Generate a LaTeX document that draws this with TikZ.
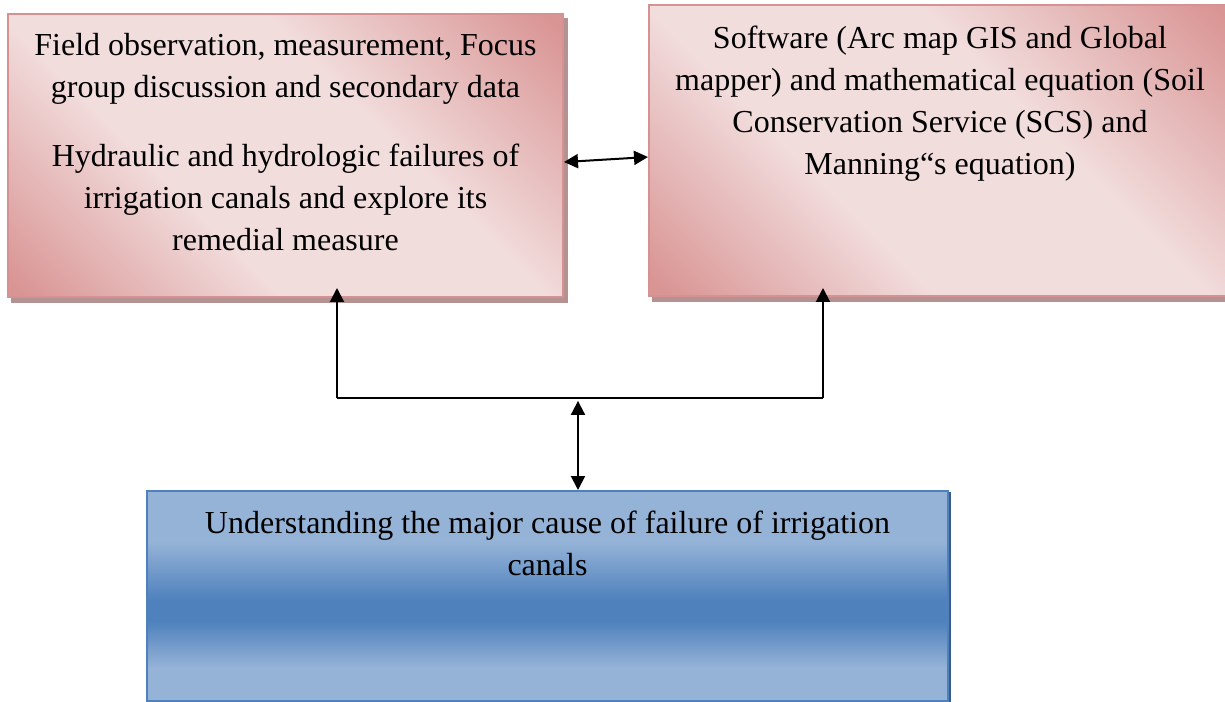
\documentclass[tikz,border=0pt]{standalone}
\usepackage{fontspec}
\setmainfont{Liberation Serif}
\usetikzlibrary{arrows.meta,backgrounds}

\definecolor{pinkdark}{RGB}{217,149,148}
\definecolor{pinklight}{RGB}{242,221,221}
\definecolor{pinkedge}{RGB}{214,146,146}
\definecolor{shadowc}{RGB}{180,146,146}
\definecolor{bluelight}{RGB}{149,179,215}
\definecolor{bluedark}{RGB}{79,129,189}
\definecolor{blueedge}{RGB}{79,129,189}
\definecolor{blueshadow}{RGB}{56,93,138}

% diagonal pink band: dark corners, wide light middle
\pgfdeclarehorizontalshading{pinkband}{100bp}{color(0bp)=(pinkdark); color(16bp)=(pinkdark); color(38bp)=(pinklight); color(60bp)=(pinklight); color(84bp)=(pinkdark); color(100bp)=(pinkdark)}
% blue band: light top and bottom, dark middle
\pgfdeclareverticalshading{blueband}{100bp}{color(0bp)=(bluelight); color(33bp)=(bluelight); color(44bp)=(bluedark); color(49bp)=(bluedark); color(63bp)=(bluelight); color(100bp)=(bluelight)}

\tikzset{
  pinkbox/.style={draw=pinkedge, line width=1.5pt, shading=pinkband, shading angle=45, inner sep=0pt},
  bluebox/.style={draw=blueedge, line width=1.5pt, shading=blueband, inner sep=0pt},
  txt/.style={align=center, inner sep=0pt, font=\fontsize{24}{31.5}\selectfont},
  link/.style={line width=1.5pt, black},
  onehead/.style={link, -{Triangle[length=10.5pt,width=10.5pt]}},
  twohead/.style={link, {Triangle[length=10.5pt,width=10.5pt]}-{Triangle[length=10.5pt,width=10.5pt]}}
}

\begin{document}
\begin{tikzpicture}[x=0.75pt, y=-0.75pt]
\useasboundingbox (0,0) rectangle (1225,702);

% boxes
\node[pinkbox, minimum width=416.25pt, minimum height=212.25pt] (L) at (285.5,155.5) {};
\node[pinkbox, minimum width=437.25pt, minimum height=218.25pt] (R) at (940.5,150.5) {};
\node[bluebox, minimum width=600.75pt, minimum height=157.5pt] (B) at (547.5,596) {};

% solid drop shadows
\begin{scope}[on background layer]
  \fill[shadowc] ([shift={(3pt,-4pt)}]L.south west) rectangle ([shift={(3pt,-4pt)}]L.north east);
  \fill[shadowc] ([shift={(3pt,-4pt)}]R.south west) rectangle ([shift={(3pt,-4pt)}]R.north east);
  \fill[blueshadow] ([shift={(1.5pt,-1.5pt)}]B.south west) rectangle ([shift={(1.5pt,-1.5pt)}]B.north east);
\end{scope}

% texts
\node[txt, anchor=north] (Lt) at (285.5,33) {Field observation, measurement, Focus\\group discussion and secondary data\\[20pt]Hydraulic and hydrologic failures of\\irrigation canals and explore its\\remedial measure};
\node[txt, anchor=north] (Rt) at (940,25.5) {Software (Arc map GIS and Global\\mapper) and mathematical equation (Soil\\Conservation Service (SCS) and\\Manning“s equation)};
\node[txt, anchor=north] (Bt) at (547.5,511) {Understanding the major cause of failure of irrigation\\canals};

% connectors
\coordinate (jl) at (337,398);
\coordinate (jr) at (823,398);
\coordinate (jm) at (578,398);

\draw[twohead] ([yshift=-4.9pt]L.east) -- ([yshift=-4.9pt]R.west);
\draw[link] (jl) -- (jr);
\draw[onehead, shorten >=-7.5pt] (jl) -- (jl |- L.south);
\draw[onehead, shorten >=-6.75pt] (jr) -- (jr |- R.south);
\draw[twohead] ([yshift=-2.2pt]jm) -- (jm |- B.north);
\end{tikzpicture}
\end{document}
